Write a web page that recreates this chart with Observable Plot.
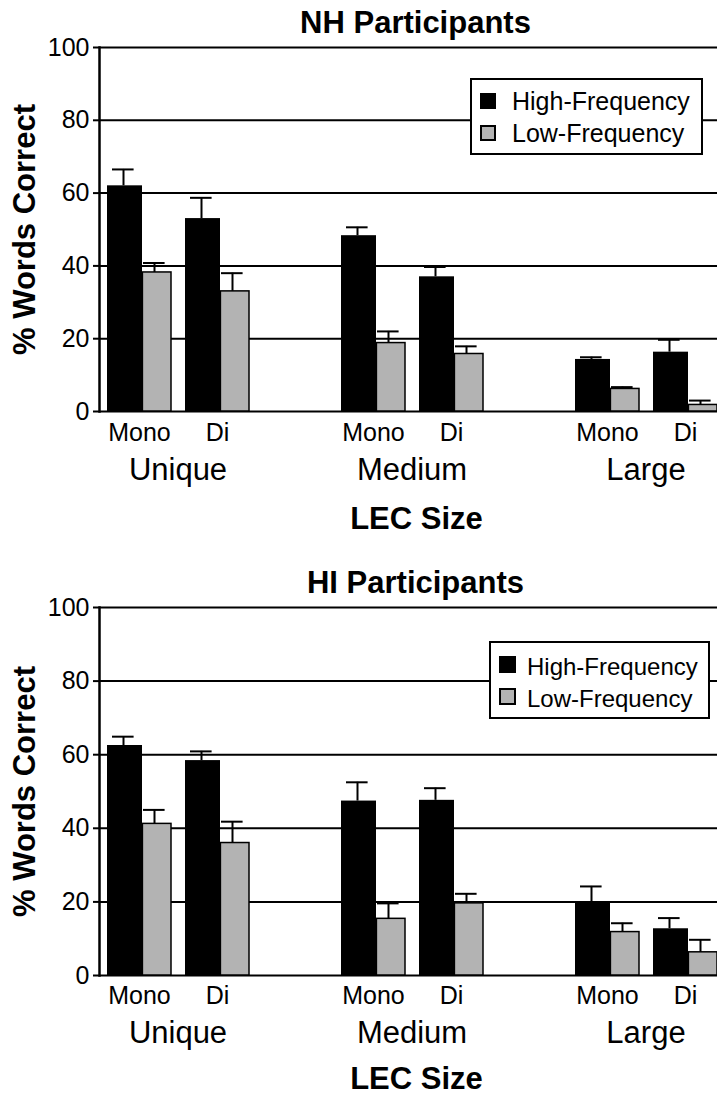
<!DOCTYPE html>
<html><head><meta charset="utf-8">
<script src="https://cdn.jsdelivr.net/npm/d3@7"></script>
<script src="https://cdn.jsdelivr.net/npm/@observablehq/plot@0.6"></script>
<style>
body{margin:0;background:#fff;font-family:"Liberation Sans",Arial,sans-serif;}
#wrap{position:relative;width:717px;height:1094px;overflow:hidden;}
.panel{position:relative;width:717px;}
.panel svg{display:block;position:absolute;left:0;top:0;}
.legend{position:absolute;background:#fff;border:2px solid #000;box-sizing:border-box;}
.legend .lab{position:absolute;white-space:nowrap;color:#000;}
.legend .sw{position:absolute;box-sizing:border-box;border:2px solid #000;}
</style></head><body><div id="wrap"></div>
<script>
const sizes = ["Unique", "Medium", "Large"];
const syllables = ["Mono", "Di"];
const series = ["High-Frequency", "Low-Frequency"];
const seriesColors = ["#000000", "#b3b3b3"];
const yTicks = [0, 20, 40, 60, 80, 100];
const xTitle = "LEC Size";
const yTitle = "% Words Correct";
const titles = ["NH Participants", "HI Participants"];

// order: Unique-Mono, Unique-Di, Medium-Mono, Medium-Di, Large-Mono, Large-Di
const nhHigh    = [62, 53, 48.3, 37, 14.3, 16.3];
const nhHighErr = [4.5, 5.7, 2.3, 2.7, 0.6, 3.4];
const nhLow     = [38.2, 33, 18.8, 15.8, 6.2, 1.8];
const nhLowErr  = [2.6, 5.0, 3.2, 2.1, 0.5, 1.2];
const hiHigh    = [62.5, 58.4, 47.4, 47.6, 19.9, 12.7];
const hiHighErr = [2.4, 2.5, 5.1, 3.3, 4.3, 2.9];
const hiLow     = [41.2, 36.0, 15.4, 19.6, 11.8, 6.3];
const hiLowErr  = [3.8, 5.8, 4.2, 2.6, 2.4, 3.4];

function buildRows(high, highErr, low, lowErr) {
  return high.map((h, i) => ({
    size: sizes[Math.floor(i / 2)],
    syl: syllables[i % 2],
    high: h, highTop: h + highErr[i],
    low: low[i], lowTop: low[i] + lowErr[i]
  }));
}

const FONT = "'Liberation Sans', Arial, Helvetica, sans-serif";

function makePanel(cfg) {
  const rows = buildRows(cfg.high, cfg.highErr, cfg.low, cfg.lowErr);
  const common = {
    width: 717, height: cfg.height,
    marginLeft: 99, marginRight: 0, marginTop: cfg.marginTop, marginBottom: cfg.marginBottom,
    y: {domain: [0, 100], axis: null}
  };
  // background layer: grid, y axis, titles
  const back = Plot.plot({
    ...common,
    style: {fontFamily: FONT, color: "#000", background: "#fff", overflow: "visible"},
    marks: [
      Plot.ruleY(yTicks, {stroke: "#000", strokeWidth: 2}),
      Plot.axisY({ticks: yTicks, tickSize: 6, tickPadding: 4, fontSize: 25, label: null, strokeWidth: 2, tickFormat: d => d}),
      Plot.frame({anchor: "left", stroke: "#000", strokeWidth: 2.5}),
      Plot.text([xTitle], {text: d => d, frameAnchor: "bottom", dy: cfg.xTitleDy, dx: 8, lineAnchor: "bottom", fontSize: 31, fontWeight: "bold"}),
      Plot.text([cfg.title], {text: d => d, frameAnchor: "top", dy: -15, dx: 7, lineAnchor: "bottom", fontSize: 31, fontWeight: "bold"}),
      Plot.text([yTitle], {text: d => d, frameAnchor: "left", textAnchor: "middle", dx: -74, rotate: -90, fontSize: 31, fontWeight: "bold"})
    ]
  });
  // foreground layer: faceted bars
  const front = Plot.plot({
    ...common,
    style: {fontFamily: FONT, color: "#000", background: "transparent", overflow: "visible"},
    fx: {domain: sizes, range: [106, 717], paddingInner: 0.389, paddingOuter: 0, axis: null},
    x: {domain: syllables, paddingInner: 0.18, paddingOuter: 0, axis: null},
    marks: [
      Plot.barY(rows, {fx: "size", x: "syl", y: "high", fill: seriesColors[0], insetRight: 29}),
      Plot.barY(rows, {fx: "size", x: "syl", y: "low", fill: seriesColors[1], stroke: "#000", strokeWidth: 1.5, insetLeft: 35.4}),
      Plot.ruleX(rows, {fx: "size", x: "syl", y1: "high", y2: "highTop", dx: -16, stroke: "#000", strokeWidth: 2}),
      Plot.tickY(rows, {fx: "size", x: "syl", y: "highTop", insetLeft: 5, insetRight: 37.4, stroke: "#000", strokeWidth: 2}),
      Plot.ruleX(rows, {fx: "size", x: "syl", y1: "low", y2: "lowTop", dx: 15, stroke: "#000", strokeWidth: 2}),
      Plot.tickY(rows, {fx: "size", x: "syl", y: "lowTop", insetLeft: 36, insetRight: 6.4, stroke: "#000", strokeWidth: 2}),
      Plot.text(rows, {fx: "size", x: "syl", text: "syl", frameAnchor: "bottom", dy: cfg.sylDy, lineAnchor: "bottom", fontSize: 25}),
      Plot.text(sizes, {fx: d => d, text: d => d, frameAnchor: "bottom", dy: cfg.sizeDy, lineAnchor: "bottom", fontSize: 31})
    ]
  });
  const div = document.createElement("div");
  div.className = "panel";
  div.style.height = cfg.height + "px";
  div.appendChild(back);
  div.appendChild(front);
  // legend
  const lg = document.createElement("div");
  lg.className = "legend";
  Object.assign(lg.style, {left: cfg.lg.left + "px", top: cfg.lg.top + "px", width: cfg.lg.w + "px", height: cfg.lg.h + "px"});
  series.forEach((s, i) => {
    const sw = document.createElement("div");
    sw.className = "sw";
    Object.assign(sw.style, {left: cfg.lg.swX + "px", top: cfg.lg.swY[i] + "px", width: cfg.lg.sw + "px", height: cfg.lg.sw + "px", background: seriesColors[i]});
    lg.appendChild(sw);
    const t = document.createElement("div");
    t.className = "lab";
    t.textContent = s;
    Object.assign(t.style, {left: cfg.lg.txX + "px", top: cfg.lg.txY[i] + "px", fontSize: cfg.lg.fs + "px", lineHeight: cfg.lg.fs + "px"});
    lg.appendChild(t);
  });
  div.appendChild(lg);
  return div;
}

const wrap = document.getElementById("wrap");
wrap.appendChild(makePanel({
  title: titles[0], high: nhHigh, highErr: nhHighErr, low: nhLow, lowErr: nhLowErr,
  height: 547, marginTop: 47, marginBottom: 136, sylDy: 29, sizeDy: 68, xTitleDy: 117,
  lg: {left: 470, top: 78, w: 233, h: 77, swX: 8, swY: [13, 45], sw: 16, txX: 40, txY: [9, 41], fs: 25}
}));
wrap.appendChild(makePanel({
  title: titles[1], high: hiHigh, highErr: hiHighErr, low: hiLow, lowErr: hiLowErr,
  height: 547, marginTop: 60, marginBottom: 119, sylDy: 28, sizeDy: 67, xTitleDy: 113,
  lg: {left: 489, top: 94, w: 221, h: 78, swX: 8, swY: [13, 45], sw: 17, txX: 36, txY: [12, 44], fs: 24}
}));
</script></body></html>
